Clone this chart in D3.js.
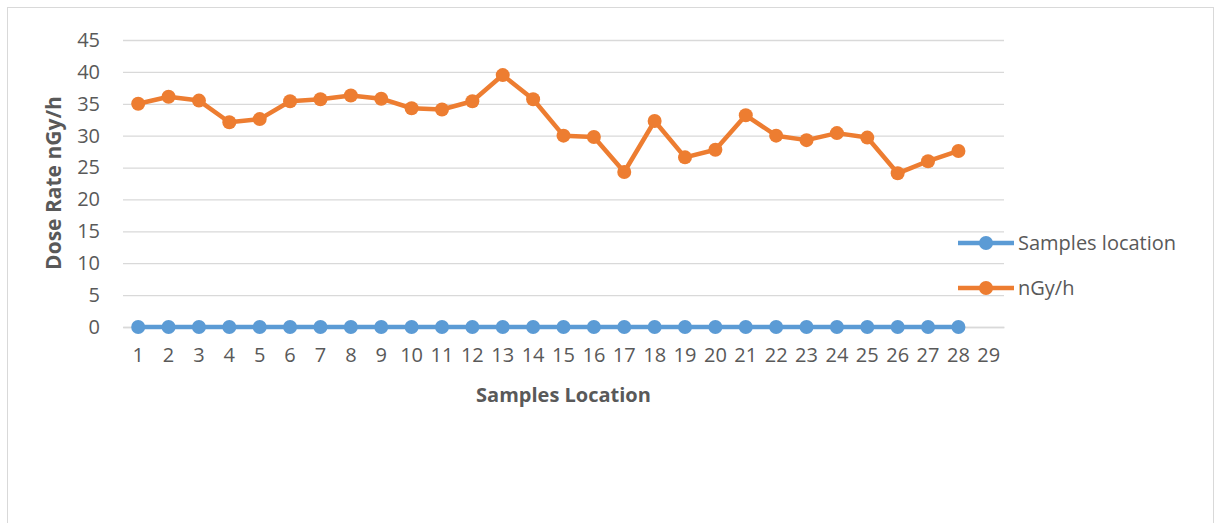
<html>
<head>
  <meta charset="UTF-8">
  <script src="https://d3js.org/d3.v7.min.js"></script>
  <style>
    body { margin: 0; background: #fff; }
    text { font-family: "Open Sans", "Liberation Sans", sans-serif; fill: #595959; }
  </style>
</head>
<body>
  <svg id="chart" width="1215" height="523"></svg>
  <script>
    // Data
    const categories = d3.range( 1, 30 ).map( String );   // 1..29 on the axis
    const samplesLocation = d3.range( 28 ).map( () => 0 );
    const doseRate = [ 35.0, 36.1, 35.5, 32.1, 32.6, 35.4, 35.7, 36.3, 35.8, 34.3,
      34.1, 35.4, 39.5, 35.7, 30.0, 29.8, 24.3, 32.3, 26.6, 27.8,
      33.2, 30.0, 29.3, 30.4, 29.7, 24.1, 26.0, 27.6 ];
    const yTicks = [ 0, 5, 10, 15, 20, 25, 30, 35, 40, 45 ];

    const series = [
      { name: "Samples location", values: samplesLocation, color: "#5b9bd5" },
      { name: "nGy/h", values: doseRate, color: "#ed7d31" }
    ];

    // Plot area
    const plotLeft = 123, plotRight = 1004, plotTop = 40, plotBottom = 327;
    const svg = d3.select( "#chart" );

    // chart frame
    svg.append( "rect" )
      .attr( "x", 7.5 ).attr( "y", 7.5 )
      .attr( "width", 1206 ).attr( "height", 530 )
      .attr( "fill", "none" ).attr( "stroke", "#d9d9d9" );

    const x = d3.scaleBand()
      .domain( categories )
      .range( [ plotLeft, plotRight ] );

    const y = d3.scaleLinear()
      .domain( [ 0, 45 ] )
      .range( [ plotBottom, plotTop ] );

    // Gridlines + y labels
    const yAxis = svg.append( "g" )
      .attr( "transform", "translate(" + plotLeft + ",0)" )
      .call( d3.axisLeft( y ).tickValues( yTicks ).tickSize( -( plotRight - plotLeft ) ).tickPadding( 23 ) );
    yAxis.select( ".domain" ).remove();
    yAxis.selectAll( "line" ).attr( "stroke", "#d9d9d9" ).attr( "stroke-width", 1.3 );
    yAxis.selectAll( "text" )
      .style( "font-size", "20px" ).attr( "fill", "#595959" )
      .attr( "font-family", null );

    // X axis labels
    const xAxis = svg.append( "g" )
      .attr( "transform", "translate(0," + plotBottom + ")" )
      .call( d3.axisBottom( x ).tickSize( 0 ).tickPadding( 21 ) );
    xAxis.select( ".domain" ).attr( "stroke", "#d9d9d9" ).attr( "stroke-width", 1.3 );
    xAxis.selectAll( "text" )
      .style( "font-size", "20px" ).attr( "fill", "#595959" )
      .attr( "font-family", null );

    // Lines and markers
    const line = d3.line()
      .x( ( d, i ) => x( categories[ i ] ) + x.bandwidth() / 2 )
      .y( d => y( d ) );

    series.forEach( s => {
      svg.append( "path" )
        .datum( s.values )
        .attr( "d", line )
        .attr( "fill", "none" )
        .attr( "stroke", s.color )
        .attr( "stroke-width", 4.5 )
        .attr( "stroke-linejoin", "round" );

      svg.append( "g" )
        .selectAll( "circle" )
        .data( s.values ).enter()
        .append( "circle" )
        .attr( "cx", ( d, i ) => x( categories[ i ] ) + x.bandwidth() / 2 )
        .attr( "cy", d => y( d ) )
        .attr( "r", 7 )
        .attr( "fill", s.color );
    } );

    // Axis titles
    svg.append( "text" )
      .attr( "x", ( plotLeft + plotRight ) / 2 ).attr( "y", 402 )
      .attr( "text-anchor", "middle" )
      .style( "font-size", "20px" ).style( "font-weight", "bold" )
      .text( "Samples Location" );

    svg.append( "text" )
      .attr( "transform", "translate(61," + 183 + ") rotate(-90)" )
      .attr( "text-anchor", "middle" )
      .style( "font-size", "21px" ).style( "font-weight", "bold" )
      .text( "Dose Rate nGy/h" );

    // Legend
    const legend = svg.append( "g" )
      .selectAll( "g" )
      .data( series ).enter()
      .append( "g" )
      .attr( "transform", ( d, i ) => "translate(958," + ( 243 + i * 45 ) + ")" );
    legend.append( "line" )
      .attr( "x1", 0 ).attr( "x2", 56 )
      .attr( "stroke", d => d.color ).attr( "stroke-width", 4.5 );
    legend.append( "circle" )
      .attr( "cx", 28 ).attr( "r", 7 )
      .attr( "fill", d => d.color );
    legend.append( "text" )
      .attr( "x", 60 ).attr( "dy", "0.35em" )
      .style( "font-size", "20px" )
      .text( d => d.name );
  </script>
</body>
</html>
